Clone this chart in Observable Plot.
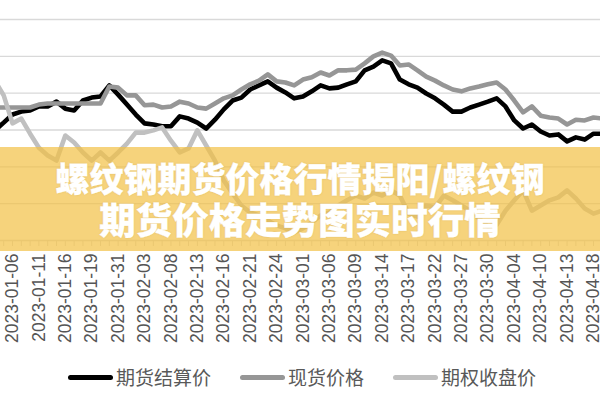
<!DOCTYPE html>
<html>
<head>
<meta charset="utf-8">
<script src="https://cdn.jsdelivr.net/npm/d3@7"></script>
<script src="https://cdn.jsdelivr.net/npm/@observablehq/plot@0.6"></script>
<style>
  html, body { margin: 0; padding: 0; background: #fff; overflow: hidden; }
  #wrap { position: relative; width: 600px; height: 400px; overflow: hidden; font-family: "Liberation Sans", Arial, sans-serif; }
  #banner { position: absolute; left: 0; top: 147px; width: 600px; height: 104px; background: rgba(242,192,68,0.7); }
  .bt { position: absolute; left: 0; width: 600px; text-align: center; color: #fff; font-family: "Noto Sans CJK SC", sans-serif; font-weight: 900; white-space: nowrap; -webkit-text-stroke: 0.3px #fff; text-shadow: 0 0 2px rgba(150,110,20,0.25); }
  #legend { position: absolute; top: 367px; left: 68px; height: 20px; display: flex; align-items: center; font-family: "Noto Sans CJK SC", sans-serif; font-size: 19px; color: #595959; }
  .sw { display: inline-block; width: 45px; height: 5px; border-radius: 3px; }
  .lab { margin-left: 3px; line-height: 20px; }
</style>
</head>
<body>
<div id="wrap">
  <div id="chart"></div>
  <div id="banner"></div>
  <div id="legend"></div>
</div>
<script>
const dates = [
  "2023-01-04","2023-01-05","2023-01-06","2023-01-09","2023-01-10","2023-01-11","2023-01-12","2023-01-13","2023-01-16","2023-01-17",
  "2023-01-18","2023-01-19","2023-01-20","2023-01-30","2023-01-31","2023-02-01","2023-02-02","2023-02-03","2023-02-06","2023-02-07",
  "2023-02-08","2023-02-09","2023-02-10","2023-02-13","2023-02-14","2023-02-15","2023-02-16","2023-02-17","2023-02-20","2023-02-21",
  "2023-02-22","2023-02-23","2023-02-24","2023-02-27","2023-02-28","2023-03-01","2023-03-02","2023-03-03","2023-03-06","2023-03-07",
  "2023-03-08","2023-03-09","2023-03-10","2023-03-13","2023-03-14","2023-03-15","2023-03-16","2023-03-17","2023-03-20","2023-03-21",
  "2023-03-22","2023-03-23","2023-03-24","2023-03-27","2023-03-28","2023-03-29","2023-03-30","2023-03-31","2023-04-03","2023-04-04",
  "2023-04-06","2023-04-07","2023-04-10","2023-04-11","2023-04-12","2023-04-13","2023-04-14","2023-04-17","2023-04-18","2023-04-19"
];
const tickLabels = [
  "2023-01-06","2023-01-11","2023-01-16","2023-01-19","2023-01-31","2023-02-03","2023-02-08","2023-02-13","2023-02-16","2023-02-21",
  "2023-02-24","2023-03-01","2023-03-06","2023-03-09","2023-03-14","2023-03-17","2023-03-22","2023-03-27","2023-03-30","2023-04-04",
  "2023-04-10","2023-04-13","2023-04-18"
];
const futuresSettle = [
  4099,4120,4142,4150,4153,4164,4164,4177,4158,4153,
  4180,4188,4191,4221,4196,4169,4142,4118,4115,4110,
  4110,4137,4131,4120,4104,4128,4156,4180,4188,4210,
  4221,4232,4215,4202,4186,4191,4205,4221,4213,4215,
  4224,4232,4262,4272,4289,4281,4237,4224,4215,4199,
  4186,4169,4150,4150,4161,4169,4177,4186,4164,4126,
  4104,4115,4096,4085,4088,4069,4080,4074,4090,4090
];
const spotPrice = [
  4161,4161,4161,4161,4161,4169,4172,4172,4172,4172,
  4172,4172,4172,4218,4215,4194,4194,4167,4169,4161,
  4164,4177,4172,4161,4158,4172,4186,4194,4210,4224,
  4234,4251,4232,4229,4221,4237,4243,4256,4248,4262,
  4262,4264,4281,4300,4310,4302,4275,4278,4262,4245,
  4234,4221,4210,4205,4213,4218,4224,4229,4210,4180,
  4148,4164,4139,4134,4131,4115,4128,4126,4134,4131
];
const optionClose = [
  4234,4194,4118,4131,4090,4052,4031,4017,4085,4066,
  4039,4017,4039,4017,4039,4063,4093,4093,4099,4107,
  4071,4039,4050,4099,4058,4017,3963,3928,3895,3876,
  3868,3854,3841,3833,3822,3833,3849,3868,3876,3895,
  3909,3922,3914,3930,3922,3936,3922,3873,3865,3895,
  3890,3922,3909,3895,3881,3860,3838,3843,3881,3909,
  3936,3881,3895,3909,3917,3936,3914,3887,3873,3881
];
const seriesNames = ["期货结算价", "现货价格", "期权收盘价"];
const seriesColors = ["#000000", "#969696", "#c0c0c0"];
const gridValues = [3900, 4000, 4100, 4200, 4300, 4400];
const titleLines = ["螺纹钢期货价格行情揭阳/螺纹钢", "期货价格走势图实时行情"];

const seriesValues = [futuresSettle, spotPrice, optionClose];
const rows = [];
seriesValues.forEach((vals, s) => {
  vals.forEach((v, i) => rows.push({date: dates[i], value: v, series: seriesNames[s]}));
});

const step = 8.803;
const x0 = 12 - 2 * step;
const x1 = x0 + (dates.length - 1) * step;

const chart = Plot.plot({
  width: 600,
  height: 360,
  marginLeft: 0,
  marginRight: 0,
  marginTop: 19,
  marginBottom: 120,
  style: {background: "transparent", overflow: "hidden"},
  x: {type: "point", domain: dates, range: [x0, x1], padding: 0, label: null},
  y: {domain: [3800, 4400], range: [240, 19], axis: null},
  color: {domain: seriesNames, range: seriesColors},
  marks: [
    Plot.gridY(gridValues, {stroke: "#d9d9d9", strokeOpacity: 1, strokeWidth: 1.3}),
    Plot.ruleY([3800], {stroke: "#d9d9d9", strokeWidth: 1.3}),
    Plot.axisX({ticks: dates, tickSize: 6, tickFormat: () => "", stroke: "#d9d9d9", strokeOpacity: 1, label: null}),
    Plot.axisX({ticks: tickLabels, tickSize: 0, tickPadding: 13, tickRotate: -90, fontSize: 17.5, fill: "#555555", label: null, fontFamily: "Liberation Sans, Arial, sans-serif"}),
    Plot.line(rows, {x: "date", y: "value", z: "series", stroke: "series", strokeWidth: 4.6, strokeLinejoin: "round", strokeLinecap: "round", clip: true})
  ]
});
document.getElementById("chart").appendChild(chart);

// banner overlay
const banner = document.getElementById("banner");
const lineSpecs = [{fs: 34, cy: 33}, {fs: 36.5, cy: 74}];
titleLines.forEach((t, i) => {
  const d = document.createElement("div");
  d.className = "bt";
  d.textContent = t;
  d.style.fontSize = lineSpecs[i].fs + "px";
  d.style.lineHeight = lineSpecs[i].fs + "px";
  d.style.top = (lineSpecs[i].cy - 0.556 * lineSpecs[i].fs) + "px";
  banner.appendChild(d);
});

// legend
const legend = document.getElementById("legend");
seriesNames.forEach((n, i) => {
  const sw = document.createElement("span");
  sw.className = "sw";
  sw.style.background = seriesColors[i];
  if (i > 0) sw.style.marginLeft = "29px";
  const lb = document.createElement("span");
  lb.className = "lab";
  lb.textContent = n;
  legend.appendChild(sw);
  legend.appendChild(lb);
});
</script>
</body>
</html>
